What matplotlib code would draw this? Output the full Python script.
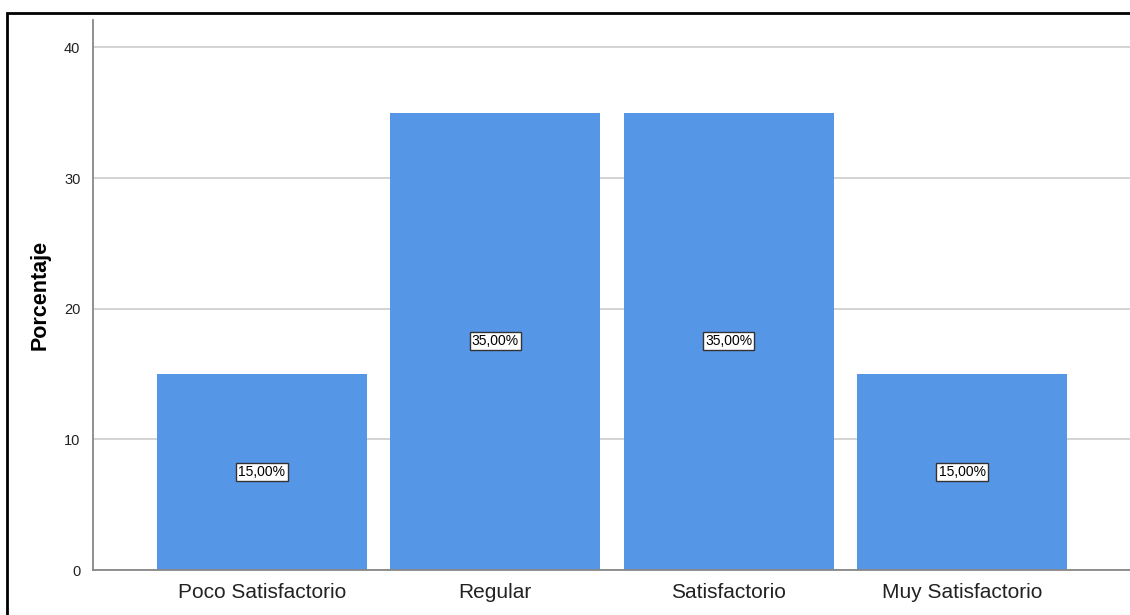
import matplotlib.pyplot as plt
import matplotlib.patches as mpatches
import numpy as np

categorias = ["Poco Satisfactorio", "Regular", "Satisfactorio", "Muy Satisfactorio"]
porcentajes = [15.0, 35.0, 35.0, 15.0]
etiquetas = ["15,00%", "35,00%", "35,00%", "15,00%"]
yticks = [0, 10, 20, 30, 40]

plt.rcParams['font.family'] = ['Liberation Sans', 'DejaVu Sans']

fig = plt.figure(figsize=(11.3, 6.15), dpi=100)
ax = fig.add_axes([93 / 1130, 45 / 615, 1038 / 1130, 550 / 615])

x = np.arange(len(categorias))
ax.bar(x, porcentajes, width=0.9, color="#5596e6", zorder=2)

for xi, v, lab in zip(x, porcentajes, etiquetas):
    ax.text(xi, v / 2, lab, ha="center", va="center", fontsize=10, color="black", zorder=3,
            bbox=dict(boxstyle="square,pad=0.15", fc="white", ec="#333333", lw=1))

ax.set_xlim(-0.724, 3.724)
ax.set_ylim(0, 42.1)
ax.set_xticks(x)
ax.set_xticklabels(categorias, fontsize=15, color="#222222")
ax.set_yticks(yticks)
ax.set_yticklabels([str(t) for t in yticks], fontsize=10.5, color="#222222")
ax.tick_params(axis="both", length=0)
ax.tick_params(axis="x", pad=9)
ax.tick_params(axis="y", pad=9)
ax.set_ylabel("Porcentaje", fontsize=15.5, fontweight="bold")
ax.yaxis.set_label_coords(-0.041, 0.5)

ax.grid(axis="y", color="#cccccc", lw=1.2, zorder=1)
ax.set_axisbelow(True)
for s in ["top", "right"]:
    ax.spines[s].set_visible(False)
for s in ["left", "bottom"]:
    ax.spines[s].set_color("#888888")
    ax.spines[s].set_linewidth(1.3)

# marco exterior
marco = mpatches.Rectangle((7 / 1130, -0.1), 1.2, (615 - 13) / 615 + 0.1,
                           transform=fig.transFigure, fill=False, ec="black", lw=2, clip_on=False)
fig.patches.append(marco)

fig.savefig("out.png", dpi=100)
